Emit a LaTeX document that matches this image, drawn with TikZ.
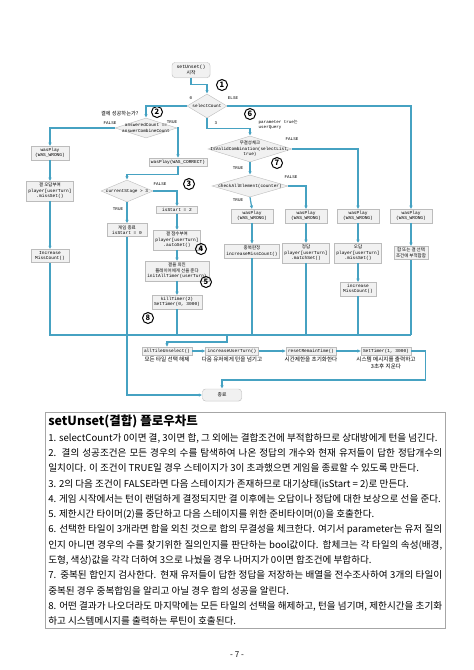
\documentclass[tikz,border=0pt]{standalone}
\usepackage{fontspec}
\setmainfont{Noto Sans CJK KR}
\newfontfamily\kr{Noto Sans CJK KR}
\newfontfamily\codefont{Liberation Mono}
\usetikzlibrary{shapes.geometric,arrows.meta,positioning,shadows}

\definecolor{flowblue}{RGB}{70,162,194}
\definecolor{boxgray}{RGB}{241,241,241}
\definecolor{edgegray}{RGB}{188,188,188}

\tikzset{
  box/.style={draw=edgegray,fill=boxgray,inner xsep=2pt,inner ysep=1.8pt,align=center,
    font=\codefont\fontsize{4.5}{5.6}\selectfont,
    drop shadow={shadow xshift=0.5pt,shadow yshift=-0.5pt,fill=black!12}},
  term/.style={box,rounded corners=3pt,font=\kr\fontsize{4.8}{5.8}\selectfont,minimum width=38pt,minimum height=15pt},
  dia/.style={diamond,draw=edgegray,fill=boxgray,inner sep=0pt},
  diatext/.style={font=\codefont\fontsize{4.4}{5.4}\selectfont,align=center,inner sep=0pt},
  num/.style={circle,draw,line width=1pt,inner sep=0pt,minimum size=11pt,font=\bfseries\fontsize{7.5}{7.5}\selectfont},
  tag/.style={font=\codefont\fontsize{4.2}{5}\selectfont,inner sep=0.5pt},
  note/.style={font=\kr\fontsize{5.6}{6.6}\selectfont,align=center,inner sep=0.5pt},
  flowarrow/.style={color=flowblue,line width=1.2pt,-{Latex[length=3.5pt,width=3.5pt]}},
  flowwire/.style={color=flowblue,line width=1.2pt},
}

\begin{document}
\begin{tikzpicture}[x=1pt,y=-1pt]
  \useasboundingbox (0,0) rectangle (474,670);

  % Start
  \node[term] (start) at (191,70) {{\codefont setUnset()}\\시작};
  \node[num] (n1) at (222,85) {1};

  % selectCount
  \node[dia,minimum width=40pt,minimum height=24pt] (sel) at (207,106) {};
  \node[diatext] (sel-t) at (sel) {selectCount};
  \node[tag] (sel-0) at (191,98) {0};
  \node[tag] (sel-else) at (233,98) {ELSE};
  \node[tag] (sel-3) at (216,123) {3};

  % Gyul check
  \node[note,anchor=east,font=\kr\fontsize{5.2}{6}\selectfont] (q2) at (139,114) {결에 성공하는가?};
  \node[num] (n2) at (157,112) {2};
  \node[dia,minimum width=62pt,minimum height=20pt] (ans) at (146,128) {};
  \node[diatext] (ans-t) at (ans) {answeredCount ==\\answerCombineCount};
  \node[tag] (ans-f) at (110,123) {FALSE};
  \node[tag] (ans-tr) at (172,122) {TRUE};

  % Gyul failed
  \node[box,minimum width=38pt] (w0) at (50,153) {wasPlay\\(WAS\_WRONG)};
  \node[box] (m0) at (50,191) {{\kr 결 오답부여}\\player[userTurn]\\.missSet()};
  \node[box,minimum width=38pt] (i0) at (50,256) {Increase\\MissCount()};

  % Gyul succeeded
  \node[box] (correct) at (178,162) {wasPlay(WAS\_CORRECT)};
  \node[dia,minimum width=52pt,minimum height=22pt] (cur) at (127,191) {};
  \node[diatext] (cur-t) at (cur) {currentStage > 3};
  \node[num] (n3) at (189,184) {3};
  \node[tag] (cur-f) at (160,184) {FALSE};
  \node[tag] (cur-tr) at (118,209) {TRUE};
  \node[box,minimum width=41pt] (st2) at (177,210) {isStart = 2};
  \node[box,minimum width=40pt] (end0) at (127,230) {{\kr 게임 종료}\\isStart = 0};
  \node[box] (gyul) at (177,240) {{\kr 결 점수부여}\\player[userTurn]\\.autoSet()};
  \node[num] (n4) at (201,249) {4};
  \node[box] (give) at (177,271) {{\kr 결을 외친}\\{\kr 플레이어에게 선을 준다}\\initAllTimer(userTurn)};
  \node[num] (n5) at (206,282) {5};
  \node[box] (kill) at (177,302) {killTimer(2)\\SetTimer(0, 3000)};
  \node[num] (n8) at (148,318) {8};

  % Hap check
  \node[num] (n6) at (250,114) {6};
  \node[tag,anchor=west,align=left] (param) at (258,125) {parameter true{\kr 는}\\userQuery};
  \node[dia,minimum width=84pt,minimum height=26pt] (valid) at (250,149) {};
  \node[diatext] (valid-t) at (valid) {{\kr 무결성체크}\\IsValidCombination(selectList,\\true)};
  \node[tag] (valid-f) at (292,139) {FALSE};
  \node[num] (n7) at (277,163) {7};
  \node[tag] (valid-tr) at (238,168) {TRUE};
  \node[dia,minimum width=76pt,minimum height=22pt] (chk) at (250,186) {};
  \node[diatext] (chk-t) at (chk) {checkAllElement(counter)};
  \node[tag] (chk-f) at (291,177) {FALSE};
  \node[tag] (chk-tr) at (238,200) {TRUE};

  % Wrong boxes
  \node[box,minimum width=42pt] (wa) at (252,216) {wasPlay\\(WAS\_WRONG)};
  \node[box,minimum width=42pt] (wb) at (306,216) {wasPlay\\(WAS\_WRONG)};
  \node[box,minimum width=42pt] (wc) at (358,216) {wasPlay\\(WAS\_WRONG)};
  \node[box,minimum width=42pt] (wd) at (411,216) {wasPlay\\(WAS\_WRONG)};
  \node[box] (dupl) at (252,251) {{\kr 중복판정}\\increaseMissCount()};
  \node[box] (matchb) at (306,253) {{\kr 정답}\\player[userTurn]\\.matchSet()};
  \node[box] (missc) at (358,253) {{\kr 오답}\\player[userTurn]\\.missSet()};
  \node[box] (unfit) at (411,253) {{\kr 합 또는 결 선택}\\{\kr 조건에 부적합함}};
  \node[box,minimum width=36pt] (incc) at (358,289) {increase\\MissCount()};

  % Closing routine
  \node[box] (allt) at (167,351) {allTileUnselect()};
  \node[box] (inct) at (232,351) {increaseUserTurn()};
  \node[box] (reset) at (311,351) {resetRemainTime()};
  \node[box] (sett) at (386,351) {SetTimer(1, 3000)};
  \node[note,below=1pt of allt] (allt-n) {모든 타일 선택 해제};
  \node[note,below=1pt of inct] (inct-n) {다음 유저에게 턴을 넘기고};
  \node[note,below=1pt of reset] (reset-n) {시간제한을 초기화한다};
  \node[note,below=1pt of sett] (sett-n) {시스템 메시지를 출력하고\\3초후 지운다};
  \node[term,minimum width=39pt,minimum height=12pt] (fin) at (222,395) {종료};

  % Connectors
  \draw[flowarrow] (start.south) -- ++(0,7) -| (sel.north);
  \draw[flowarrow] (sel.west) -| (ans.north);
  \draw[flowarrow] (sel.east) -| (wd.north);
  \draw[flowarrow] (sel.south) -- ++(0,10) -| (valid.north);
  \draw[flowarrow] (ans.west) -| (w0.north);
  \draw[flowarrow] (ans.east) -| (correct.north);
  \draw[flowarrow] (w0) -- (m0);
  \draw[flowarrow] (m0) -- (i0);
  \draw[flowarrow] (correct.south) -- ++(0,8) -| (cur.north);
  \draw[flowarrow] (cur.east) -| (st2.north);
  \draw[flowarrow] (cur.south) -- (end0.north);
  \draw[flowarrow] (st2) -- (gyul);
  \draw[flowarrow] (gyul) -- (give);
  \draw[flowarrow] (give) -- (kill);
  \draw[flowarrow] (valid.east) -| (wc.north);
  \draw[flowarrow] (valid.south) -- (chk.north);
  \draw[flowarrow] (chk.east) -| (wb.north);
  \draw[flowarrow] (chk.south) -- (wa.north);
  \draw[flowarrow] (wa) -- (dupl);
  \draw[flowarrow] (wb) -- (matchb);
  \draw[flowarrow] (wc) -- (missc);
  \draw[flowarrow] (wd) -- (unfit);
  \draw[flowarrow] (missc) -- (incc);

  % Merge line
  \coordinate (joinR) at (411,335);
  \coordinate (merge) at (227,335);
  \draw[flowwire] (i0.south) |- (joinR);
  \draw[flowwire] (unfit.south) -- (joinR);
  \draw[flowwire] (kill.south) -- (kill.south |- joinR);
  \draw[flowwire] (dupl.south) -- (dupl.south |- joinR);
  \draw[flowwire] (matchb.south) -- (matchb.south |- joinR);
  \draw[flowwire] (incc.south) -- (incc.south |- joinR);
  \draw[flowarrow] (merge) -- ++(0,7) -| (allt.north);
  \draw[flowarrow] (end0.south) |- (fin.west);
  \draw[flowarrow] (allt) -- (inct);
  \draw[flowarrow] (inct) -- (reset);
  \draw[flowarrow] (reset) -- (sett);
  \draw[flowarrow] (sett.east) -| ++(14,29) -| (fin.north);

  % Description
  \node[draw=gray!70,line width=0.5pt,anchor=north west,text width=394pt,inner xsep=3pt,inner ysep=3pt,
    align=justify,font=\fontsize{9.6}{15.3}\selectfont] (desc) at (45,412) {%
    {\bfseries\fontsize{12.5}{17}\selectfont setUnset(결합) 플로우차트\par}
    1. selectCount가 0이면 결, 3이면 합, 그 외에는 결합조건에 부적합하므로 상대방에게 턴을 넘긴다.\par
    2. 결의 성공조건은 모든 경우의 수를 탐색하여 나온 정답의 개수와 현재 유저들이 답한 정답개수의\linebreak
    일치이다. 이 조건이 TRUE일 경우 스테이지가 3이 초과했으면 게임을 종료할 수 있도록 만든다.\par
    3. 2의 다음 조건이 FALSE라면 다음 스테이지가 존재하므로 대기상태(isStart = 2)로 만든다.\par
    4. 게임 시작에서는 턴이 랜덤하게 결정되지만 결 이후에는 오답이나 정답에 대한 보상으로 선을 준다.\par
    5. 제한시간 타이머(2)를 중단하고 다음 스테이지를 위한 준비타이머(0)을 호출한다.\par
    6. 선택한 타일이 3개라면 합을 외친 것으로 합의 무결성을 체크한다. 여기서 parameter는 유저 질의\linebreak
    인지 아니면 경우의 수를 찾기위한 질의인지를 판단하는 bool값이다. 합체크는 각 타일의 속성(배경,\linebreak
    도형, 색상)값을 각각 더하여 3으로 나눴을 경우 나머지가 0이면 합조건에 부합하다.\par
    7. 중복된 합인지 검사한다. 현재 유저들이 답한 정답을 저장하는 배열을 전수조사하여 3개의 타일이\linebreak
    중복된 경우 중복합임을 알리고 아닐 경우 합의 성공을 알린다.\par
    8. 어떤 결과가 나오더라도 마지막에는 모든 타일의 선택을 해제하고, 턴을 넘기며, 제한시간을 초기화\linebreak
    하고 시스템메시지를 출력하는 루틴이 호출된다.\par};

  % Page number
  \node[font=\fontsize{8}{9}\selectfont] (page) at (237,655) {- 7 -};
\end{tikzpicture}
\end{document}
